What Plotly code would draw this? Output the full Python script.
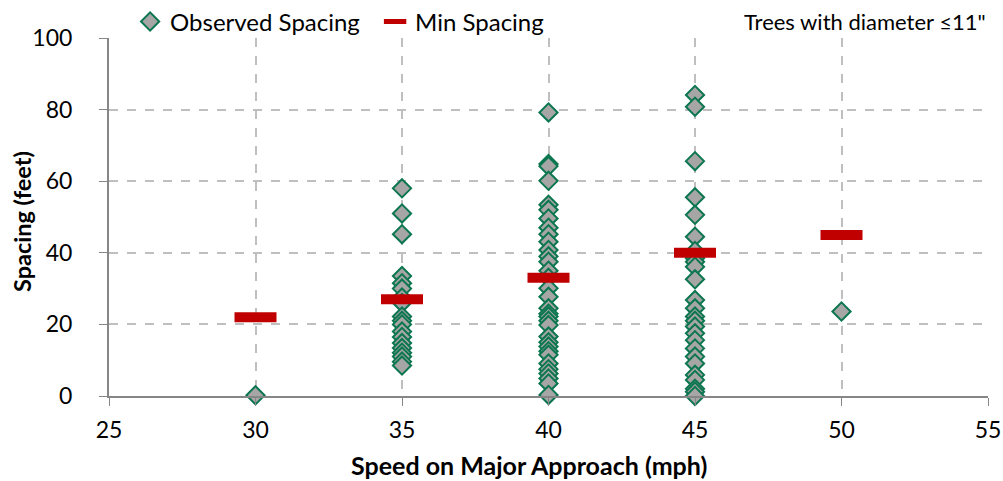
import plotly.graph_objects as go

# Observed tree spacing by posted speed (trees with diameter <= 11")
obs_30 = [0.2]
obs_35 = [58, 51, 45.2, 33.5, 31.5, 30, 27.5, 26, 22.2, 21, 20, 18, 16.5,
          14.8, 13.4, 12.1, 11, 9.6, 8.5]
obs_40 = [79.2, 64.8, 64.2, 60.1, 53.4, 52, 49.6, 47, 45.2, 43.1, 40.8, 39,
          37.5, 35, 33, 30.1, 27.7, 24.5, 23, 22.2, 21, 19.8, 16.6, 15, 13.8,
          12.5, 11.5, 9.1, 7.5, 6.3, 4.9, 3.5, 0.3]
obs_45 = [84.1, 80.8, 65.6, 55.5, 50.6, 44.5, 40.5, 38.5, 37.5, 36.1, 32.6,
          26.8, 24.5, 22.2, 21, 19.4, 17.5, 15.6, 13.3, 11, 9.1, 5.9, 4.5, 2,
          1.2, 0]
obs_50 = [23.6]

min_speed = [30, 35, 40, 45, 50]
min_spacing = [22, 27, 33, 40, 45]

x_ticks = [25, 30, 35, 40, 45, 50, 55]
y_ticks = [0, 20, 40, 60, 80, 100]

obs_x, obs_y = [], []
for spd, vals in [(30, obs_30), (35, obs_35), (40, obs_40), (45, obs_45), (50, obs_50)]:
    obs_x += [spd] * len(vals)
    obs_y += vals

FONT = "Lato"
grid = "#BFBFBF"
axis_col = "#868686"

fig = go.Figure()
fig.add_trace(go.Scatter(
    x=obs_x, y=obs_y, mode="markers", name="Observed Spacing",
    marker=dict(symbol="diamond", size=14, color="#A6A6A6",
                line=dict(color="#0B7650", width=2)),
    cliponaxis=False,
))
fig.add_trace(go.Scatter(
    x=min_speed, y=min_spacing, mode="markers", name="Min Spacing",
    marker=dict(symbol="line-ew", size=30, color="#C00000",
                line=dict(color="#C00000", width=10)),
    cliponaxis=False,
))

fig.update_layout(
    width=1003, height=481,
    margin=dict(l=109, r=15, t=38, b=85, autoexpand=False),
    paper_bgcolor="white", plot_bgcolor="white",
    font=dict(family=FONT, size=23, color="black"),
    showlegend=True,
    legend=dict(orientation="h", x=0.024, xanchor="left", y=1.045, yanchor="middle",
                font=dict(family=FONT, size=24), itemwidth=30,
                entrywidth=200, entrywidthmode="pixels",
                bgcolor="rgba(0,0,0,0)", tracegroupgap=0),
    xaxis=dict(
        range=[25, 55], tickvals=x_ticks, ticks="outside", ticklen=8,
        tickcolor=axis_col, showline=True, linecolor=axis_col, linewidth=2,
        showgrid=True, gridcolor=grid, griddash="dash", gridwidth=1.5,
        zeroline=False, tickfont=dict(size=23), ticklabelstandoff=4,
        automargin=False,
    ),
    yaxis=dict(
        range=[0, 100], tickvals=y_ticks, ticks="outside", ticklen=8,
        tickcolor=axis_col, showline=True, linecolor=axis_col, linewidth=2,
        showgrid=True, gridcolor=grid, griddash="dash", gridwidth=1.5,
        zeroline=False, tickfont=dict(size=23), ticklabelstandoff=22,
        automargin=False,
    ),
    annotations=[
        dict(text="Trees with diameter \u226411\"", xref="paper", yref="paper",
             x=1.0, y=1.045, xanchor="right", yanchor="middle", showarrow=False,
             font=dict(family=FONT, size=22)),
        dict(text="<b>Speed on Major Approach (mph)</b>", xref="paper", yref="paper",
             x=(529 - 109) / 879, y=-(465 - 396) / 358, xanchor="center",
             yanchor="middle", showarrow=False, font=dict(family=FONT, size=25)),
        dict(text="<b>Spacing (feet)</b>", xref="paper", yref="paper",
             x=-(109 - 22) / 879, y=(396 - 222) / 358, xanchor="center",
             yanchor="middle", showarrow=False, textangle=-90,
             font=dict(family=FONT, size=23.5)),
    ],
)

fig.write_html("out.html")
